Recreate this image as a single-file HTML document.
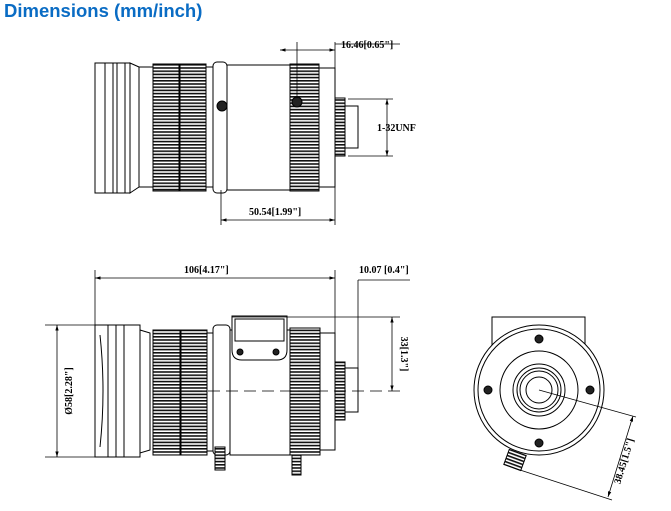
<!DOCTYPE html>
<html><head><style>
body{margin:0;background:#fff;width:671px;height:511px;overflow:hidden}
.t{position:absolute;left:4px;top:0px;font:bold 18.5px "Liberation Sans",sans-serif;color:#0a6cc4}
svg{position:absolute;left:0;top:0}
text{font-family:"Liberation Serif",serif;font-weight:bold;font-size:10px;fill:#000}
</style></head><body>
<div class="t">Dimensions (mm/inch)</div>
<svg width="671" height="511" viewBox="0 0 671 511">
<defs>
<pattern id="kn" width="4" height="3.2" patternUnits="userSpaceOnUse"><rect width="4" height="3.2" fill="#fff"/><rect y="0" width="4" height="1.6" fill="#111"/></pattern>
<marker id="a" viewBox="0 0 10 10" refX="10" refY="5" markerWidth="7" markerHeight="7" orient="auto-start-reverse"><path d="M0,2L10,5L0,8z" fill="#000"/></marker>
</defs>
<g fill="#fff" stroke="#000" stroke-width="1">
<!-- TOP VIEW -->
<rect x="95" y="63" width="35" height="130"/>
<line x1="105" y1="63" x2="105" y2="193"/><line x1="113" y1="63" x2="113" y2="193"/><line x1="117" y1="63" x2="117" y2="193"/><line x1="125" y1="63" x2="125" y2="193"/>
<path d="M130,63L139,67L139,187L130,193z"/>
<rect x="139" y="67" width="14" height="120"/>
<rect x="153" y="64" width="26" height="127" fill="url(#kn)"/>
<rect x="180" y="64" width="26" height="127" fill="url(#kn)"/>
<rect x="206" y="67" width="7" height="120"/>
<rect x="213" y="62" width="14" height="131" rx="4"/>
<rect x="227" y="65" width="63" height="125"/>
<circle cx="222" cy="106" r="5" fill="#222"/>
<rect x="290" y="64" width="29" height="127" fill="url(#kn)"/>
<circle cx="297" cy="102" r="5" fill="#222"/>
<rect x="319" y="68" width="16" height="119"/>
<rect x="335" y="98" width="10" height="58" fill="url(#kn)"/>
<rect x="345" y="106" width="13" height="42"/>
<!-- BOTTOM VIEW -->
<rect x="95" y="325" width="13" height="132"/>
<path d="M100,335Q106,391 100,447" fill="none"/>
<rect x="108" y="325" width="32" height="132"/>
<line x1="116" y1="325" x2="116" y2="457"/><line x1="124" y1="325" x2="124" y2="457"/>
<path d="M140,330L150,333L150,450L140,453z"/>
<rect x="153" y="330" width="27" height="125" fill="url(#kn)"/>
<rect x="181" y="330" width="26" height="125" fill="url(#kn)"/>
<rect x="207" y="333" width="6" height="118"/>
<rect x="213" y="325" width="17" height="130" rx="4"/>
<rect x="230" y="330" width="60" height="125"/>
<path d="M232,316H287V350Q287,360 277,360H242Q232,360 232,350z"/>
<rect x="235" y="319" width="49" height="22"/>
<circle cx="240" cy="352" r="3" fill="#222"/><circle cx="276" cy="352" r="3" fill="#222"/>
<rect x="215" y="447" width="10" height="23" fill="url(#kn)"/>
<rect x="292" y="455" width="9" height="20" fill="url(#kn)"/>
<rect x="290" y="328" width="30" height="127" fill="url(#kn)"/>
<rect x="320" y="333" width="15" height="117"/>
<rect x="335" y="362" width="10" height="58" fill="url(#kn)"/>
<rect x="345" y="368" width="13" height="44"/>
<!-- END VIEW -->
<rect x="492" y="317" width="93" height="30"/>
<circle cx="539" cy="390" r="65"/>
<circle cx="539" cy="390" r="61"/>
<circle cx="539" cy="390" r="39"/>
<circle cx="539" cy="390" r="26"/>
<circle cx="539" cy="390" r="22"/>
<circle cx="539" cy="390" r="19"/>
<circle cx="539" cy="390" r="13"/>
<circle cx="539" cy="339" r="4" fill="#222"/><circle cx="539" cy="443" r="4" fill="#222"/>
<circle cx="488" cy="390" r="4" fill="#222"/><circle cx="590" cy="390" r="4" fill="#222"/>
<rect x="506" y="452" width="18" height="16" fill="url(#kn)" transform="rotate(20 515 460)"/>
</g>
<g stroke="#000" stroke-width="0.8" fill="none">
<line x1="280" y1="50" x2="335" y2="50" marker-start="url(#a)" marker-end="url(#a)"/>
<line x1="335" y1="44" x2="400" y2="44"/>
<line x1="297" y1="42" x2="297" y2="98"/>
<line x1="335" y1="42" x2="335" y2="225"/>
<line x1="348" y1="99" x2="393" y2="99"/><line x1="348" y1="156" x2="393" y2="156"/>
<line x1="387" y1="99" x2="387" y2="156" marker-start="url(#a)" marker-end="url(#a)"/>
<line x1="221" y1="190" x2="221" y2="225"/>
<line x1="221" y1="220" x2="335" y2="220" marker-start="url(#a)" marker-end="url(#a)"/>
<line x1="95" y1="270" x2="95" y2="325"/>
<line x1="335" y1="270" x2="335" y2="425"/>
<line x1="95" y1="278" x2="335" y2="278" marker-start="url(#a)" marker-end="url(#a)"/>
<line x1="358" y1="280" x2="358" y2="370"/>
<line x1="358" y1="280" x2="410" y2="280"/>
<line x1="45" y1="325" x2="100" y2="325"/><line x1="45" y1="457" x2="100" y2="457"/>
<line x1="57" y1="325" x2="57" y2="457" marker-start="url(#a)" marker-end="url(#a)"/>
<line x1="232" y1="317" x2="400" y2="317"/>
<line x1="190" y1="391" x2="400" y2="391" stroke-dasharray="12,6"/>
<line x1="392" y1="317" x2="392" y2="391" marker-start="url(#a)" marker-end="url(#a)"/>
<line x1="539" y1="390" x2="636" y2="417"/>
<line x1="520" y1="470" x2="612" y2="500"/>
<line x1="633" y1="416" x2="608" y2="497" marker-start="url(#a)" marker-end="url(#a)"/>
</g>
<text x="341" y="48">16.46[0.65"]</text>
<text x="377" y="131">1-32UNF</text>
<text x="249" y="215">50.54[1.99"]</text>
<text x="184" y="273">106[4.17"]</text>
<text x="359" y="273">10.07 [0.4"]</text>
<text transform="translate(72,391) rotate(-90)" text-anchor="middle">Ø58[2.28"]</text>
<text transform="translate(401,354) rotate(90)" text-anchor="middle">33[1.3"]</text>
<text transform="translate(627,462) rotate(-73)" text-anchor="middle">38.45[1.5"]</text>
</svg>
</body></html>
